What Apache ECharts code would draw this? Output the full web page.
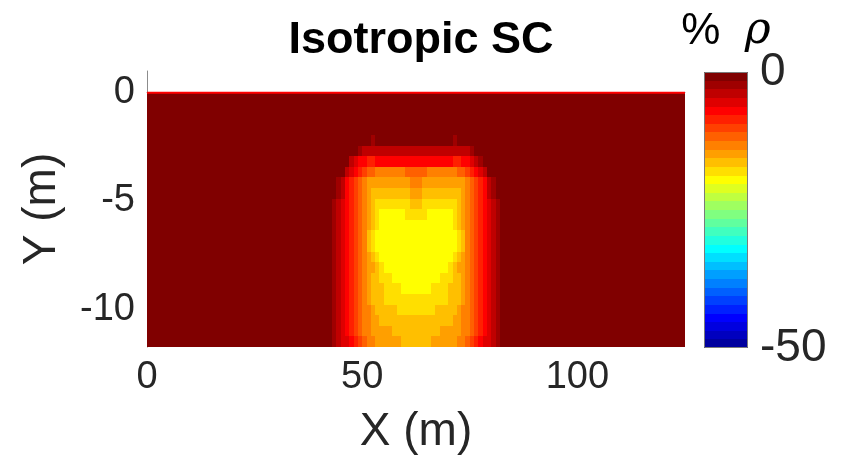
<!DOCTYPE html>
<html>
<head>
<meta charset="utf-8">
<script src="https://cdn.jsdelivr.net/npm/echarts@6/dist/echarts.min.js"></script>
<style>
  html, body { margin: 0; padding: 0; background: #fff; }
  #chart { width: 851px; height: 461px; }
</style>
</head>
<body>
<div id="chart"></div>
<script>
// Resistivity change section, % rho, on a 1 m x ~0.49 m mesh.
const nCols = 125;            // columns along X, 0..125 m
const nRows = 24;             // rows down from the surface to -11.75 m
const modelBottom = -11.75;

// Anomaly block: rows 4..23, columns 40..84. Everything else is 0 %.
const blockFirstRow = 4;
const blockFirstCol = 40;
const blockRows = [
  [0,0,0,0,0, 0,0,0,0,0, 0,0,-2,0,0, 0,0,0,0,0, 0,0,0,0,0, 0,0,0,0,0, 0,-2,0,0,0, 0,0,0,0,0, 0,0,0,0,0],
  [0,0,0,0,0, 0,0,0,0,-2, -4,-4,-4,-4,-4, -4,-4,-4,-4,-4, -4,-4,-4,-4,-4, -4,-4,-4,-4,-4, -4,-4,-4,-4,-4, -2,0,0,0,0, 0,0,0,0,0],
  [0,0,0,0,0, 0,0,-4,-5,-7, -7,-9,-9,-7,-7, -7,-7,-7,-7,-7, -7,-7,-7,-7,-7, -7,-7,-7,-7,-7, -7,-9,-9,-7,-7, -5,-4,-2,0,0, 0,0,0,0,0],
  [0,0,0,0,0, 0,-4,-5,-7,-9, -10,-12,-12,-13,-13, -13,-13,-13,-13,-13, -12,-12,-12,-12,-12, -13,-13,-13,-13,-13, -13,-13,-12,-12,-10, -9,-7,-5,-4,0, 0,0,0,0,0],
  [0,0,0,0,-2, -4,-7,-9,-10,-12, -13,-15,-15,-15,-15, -15,-15,-15,-15,-15, -15,-13,-13,-13,-15, -15,-15,-15,-15,-15, -15,-15,-15,-15,-13, -12,-10,-9,-7,-4, -2,0,0,0,0],
  [0,0,0,0,-2, -4,-7,-9,-10,-12, -13,-15,-16,-16,-16, -16,-16,-16,-16,-16, -16,-15,-15,-15,-16, -16,-16,-16,-16,-16, -16,-16,-16,-15,-13, -12,-10,-9,-7,-4, -2,0,0,0,0],
  [0,0,0,-2,-4, -5,-7,-9,-10,-12, -13,-15,-16,-18,-18, -18,-18,-18,-18,-18, -18,-16,-16,-16,-18, -18,-18,-18,-18,-18, -18,-18,-16,-15,-13, -12,-10,-9,-7,-5, -4,-2,0,0,0],
  [0,0,0,-2,-4, -5,-7,-9,-10,-12, -13,-15,-16,-18,-19, -19,-19,-19,-19,-19, -18,-18,-18,-18,-18, -19,-19,-19,-19,-19, -19,-18,-16,-15,-13, -12,-10,-9,-7,-5, -4,-2,0,0,0],
  [0,0,0,-2,-4, -5,-7,-9,-10,-12, -13,-15,-16,-18,-19, -19,-19,-19,-19,-19, -19,-19,-19,-19,-19, -19,-19,-19,-19,-19, -19,-18,-16,-15,-13, -12,-10,-9,-7,-5, -4,-2,0,0,0],
  [0,0,0,-2,-4, -5,-7,-9,-10,-12, -13,-16,-18,-19,-19, -19,-19,-19,-19,-19, -19,-19,-19,-19,-19, -19,-19,-19,-19,-19, -19,-19,-18,-16,-13, -12,-10,-9,-7,-5, -4,-2,0,0,0],
  [0,0,0,-2,-4, -5,-7,-9,-10,-12, -13,-16,-18,-19,-19, -19,-19,-19,-19,-19, -19,-19,-19,-19,-19, -19,-19,-19,-19,-19, -19,-19,-18,-16,-13, -12,-10,-9,-7,-5, -4,-2,0,0,0],
  [0,0,0,-2,-4, -5,-7,-9,-10,-12, -13,-15,-16,-18,-19, -19,-19,-19,-19,-19, -19,-19,-19,-19,-19, -19,-19,-19,-19,-19, -19,-18,-16,-15,-13, -12,-10,-9,-7,-5, -4,-2,0,0,0],
  [0,0,0,-2,-4, -5,-7,-9,-10,-12, -13,-15,-15,-16,-18, -19,-19,-19,-19,-19, -19,-19,-19,-19,-19, -19,-19,-19,-19,-19, -18,-16,-15,-15,-13, -12,-10,-9,-7,-5, -4,-2,0,0,0],
  [0,0,0,-2,-4, -5,-7,-9,-10,-12, -13,-15,-16,-16,-18, -18,-18,-19,-19,-19, -19,-19,-19,-19,-19, -19,-19,-19,-18,-18, -18,-16,-16,-15,-13, -12,-10,-9,-7,-5, -4,-2,0,0,0],
  [0,0,0,-2,-4, -5,-7,-9,-10,-12, -13,-15,-16,-16,-16, -18,-18,-18,-18,-19, -19,-19,-19,-19,-19, -19,-18,-18,-18,-18, -16,-16,-16,-15,-13, -12,-10,-9,-7,-5, -4,-2,0,0,0],
  [0,0,0,-2,-4, -5,-7,-9,-10,-12, -13,-15,-16,-16,-16, -18,-18,-18,-18,-18, -18,-18,-18,-18,-18, -18,-18,-18,-18,-18, -16,-16,-16,-15,-13, -12,-10,-9,-7,-5, -4,-2,0,0,0],
  [0,0,0,-2,-4, -5,-7,-9,-10,-12, -13,-13,-15,-16,-16, -16,-16,-16,-18,-18, -18,-18,-18,-18,-18, -18,-18,-16,-16,-16, -16,-16,-15,-13,-13, -12,-10,-9,-7,-5, -4,-2,0,0,0],
  [0,0,0,-2,-4, -5,-7,-9,-10,-12, -13,-13,-15,-15,-16, -16,-16,-16,-16,-16, -16,-16,-16,-16,-16, -16,-16,-16,-16,-16, -16,-15,-15,-13,-13, -12,-10,-9,-7,-5, -4,-2,0,0,0],
  [0,0,0,-2,-4, -5,-7,-9,-10,-12, -13,-13,-15,-15,-15, -15,-15,-16,-16,-16, -16,-16,-16,-16,-16, -16,-16,-16,-15,-15, -15,-15,-15,-13,-13, -12,-10,-9,-7,-5, -4,-2,0,0,0],
  [0,0,0,-2,-4, -5,-5,-7,-9,-10, -12,-13,-13,-15,-15, -15,-15,-15,-15,-16, -16,-16,-16,-16,-16, -16,-15,-15,-15,-15, -15,-15,-13,-13,-12, -10,-9,-7,-5,-5, -4,-2,0,0,0]
];

// Ground surface line
const surfaceX = [0, 125];
const surfaceY = [0, 0];

// Tick labels
const xTicks = [0, 50, 100];
const yTicks = [-10, -5, 0];
const cbarTicks = [-50, 0];

// 32-step jet colour scale from -50 % to 0 %
const cbarMin = -50, cbarMax = 0;
const jet32 = [
  '#00009f','#0000bf','#0000df','#0000ff','#0020ff','#0040ff','#0060ff','#0080ff',
  '#009fff','#00bfff','#00dfff','#00ffff','#20ffdf','#40ffbf','#60ff9f','#80ff80',
  '#9fff60','#bfff40','#dfff20','#ffff00','#ffdf00','#ffbf00','#ff9f00','#ff8000',
  '#ff6000','#ff4000','#ff2000','#ff0000','#df0000','#bf0000','#9f0000','#800000'
];

const cellW = 125 / nCols;
const cellH = -modelBottom / nRows;

// Mesh cells: [x centre, y centre, % rho]
const cells = [];
for (let r = 0; r < nRows; r++) {
  const yc = -(r + 0.5) * cellH;
  for (let c = 0; c < nCols; c++) {
    const br = r - blockFirstRow, bc = c - blockFirstCol;
    let v = 0;
    if (br >= 0 && br < blockRows.length && bc >= 0 && bc < blockRows[br].length) {
      v = blockRows[br][bc];
    }
    cells.push([(c + 0.5) * cellW, yc, v]);
  }
}

const bandW = (cbarMax - cbarMin) / jet32.length;
const pieces = jet32.map((col, i) => {
  const lo = cbarMin + i * bandW, hi = lo + bandW;
  return i === jet32.length - 1 ? { gte: lo, lte: hi, color: col } : { gte: lo, lt: hi, color: col };
});
// Colour bar bands: [low, high, mid]
const bands = jet32.map((col, i) => {
  const lo = cbarMin + i * bandW;
  return [lo, lo + bandW, lo + bandW / 2];
});

const font = 'Liberation Sans, Arial, Helvetica, sans-serif';
const ink = '#262626';

// Rectangle between two data corners, snapped to whole pixels so that
// neighbouring cells meet without seams.
function cellRect(api, xa, ya, xb, yb) {
  const p0 = api.coord([xa, ya]);
  const p1 = api.coord([xb, yb]);
  const x0 = Math.round(Math.min(p0[0], p1[0])), x1 = Math.round(Math.max(p0[0], p1[0]));
  const y0 = Math.round(Math.min(p0[1], p1[1])), y1 = Math.round(Math.max(p0[1], p1[1]));
  return { x: x0, y: y0, width: x1 - x0, height: y1 - y0 };
}

const chart = echarts.init(document.getElementById('chart'), null, { renderer: 'canvas' });
chart.setOption({
  animation: false,
  backgroundColor: '#ffffff',
  title: {
    text: 'Isotropic SC',
    left: 416,
    top: 13,
    textAlign: 'center',
    textStyle: { fontFamily: font, fontSize: 45, fontWeight: 'bold', color: '#000' }
  },
  grid: [
    { left: 147, top: 71, width: 538, height: 276, containLabel: false },
    { left: 704, top: 72, width: 44, height: 276, containLabel: false }
  ],
  xAxis: [
    {
      gridIndex: 0, type: 'value', min: 0, max: 125,
      name: 'X (m)', nameLocation: 'middle', nameGap: 62,
      nameTextStyle: { fontFamily: font, fontSize: 46, color: ink },
      axisLine: { show: true, lineStyle: { color: '#8c8c8c', width: 1 } },
      axisTick: { show: false },
      splitLine: { show: false },
      axisLabel: { customValues: xTicks, fontFamily: font, fontSize: 38, color: ink, margin: 12 }
    },
    {
      gridIndex: 1, type: 'value', min: 0, max: 1, position: 'top',
      name: '{a|%  }{b|ρ}', nameLocation: 'middle', nameGap: 18,
      nameTextStyle: {
        rich: {
          a: { fontFamily: font, fontSize: 44, color: '#000' },
          b: { fontFamily: 'DejaVu Serif, serif', fontSize: 44, fontStyle: 'italic', color: '#000' }
        }
      },
      axisLine: { show: false }, axisTick: { show: false },
      axisLabel: { show: false }, splitLine: { show: false }
    }
  ],
  yAxis: [
    {
      gridIndex: 0, type: 'value', min: modelBottom, max: 1,
      name: 'Y (m)', nameLocation: 'middle', nameGap: 82,
      nameTextStyle: { fontFamily: font, fontSize: 46, color: ink },
      axisLine: { show: true, lineStyle: { color: '#8c8c8c', width: 1 } },
      axisTick: { show: false },
      splitLine: { show: false },
      axisLabel: { customValues: yTicks, fontFamily: font, fontSize: 38, color: ink, margin: 12 }
    },
    {
      gridIndex: 1, type: 'value', min: cbarMin, max: cbarMax, position: 'right',
      axisLine: { show: false }, axisTick: { show: false }, splitLine: { show: false },
      axisLabel: { customValues: cbarTicks, fontFamily: font, fontSize: 46, color: ink, margin: 12 }
    }
  ],
  visualMap: {
    type: 'piecewise',
    show: false,
    dimension: 2,
    seriesIndex: [0, 2],
    pieces: pieces
  },
  series: [
    {
      type: 'custom',
      xAxisIndex: 0, yAxisIndex: 0,
      data: cells,
      encode: { x: 0, y: 1 },
      clip: true,
      renderItem: function (params, api) {
        const x = api.value(0), y = api.value(1);
        return {
          type: 'rect',
          shape: cellRect(api, x - cellW / 2, y + cellH / 2, x + cellW / 2, y - cellH / 2),
          style: { fill: api.visual('color') }
        };
      }
    },
    {
      type: 'line',
      xAxisIndex: 0, yAxisIndex: 0,
      data: surfaceX.map((x, i) => [x, surfaceY[i]]),
      symbol: 'none',
      lineStyle: { color: '#ff0000', width: 2 },
      z: 5
    },
    {
      type: 'custom',
      xAxisIndex: 1, yAxisIndex: 1,
      data: bands,
      encode: { y: [0, 1] },
      renderItem: function (params, api) {
        return {
          type: 'rect',
          shape: cellRect(api, 0, api.value(1), 1, api.value(0)),
          style: { fill: api.visual('color') }
        };
      }
    }
  ],
  graphic: [
    {
      type: 'rect', z: 100, silent: true,
      shape: { x: 704.5, y: 72.5, width: 43, height: 275 },
      style: { fill: 'none', stroke: '#7a7a7a', lineWidth: 1 }
    }
  ]
});
</script>
</body>
</html>
